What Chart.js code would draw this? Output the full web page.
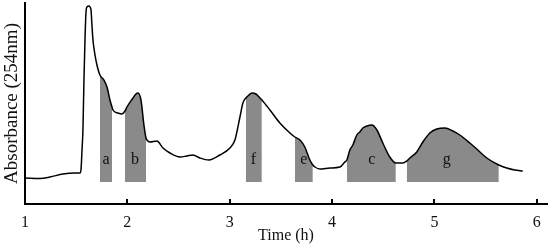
<!DOCTYPE html>
<html>
<head>
<meta charset="utf-8">
<script src="https://cdn.jsdelivr.net/npm/chart.js@4"></script>
<style>
  body { margin: 0; background: #fff; }
  #chromCanvas { display: block; }
</style>
</head>
<body>
<canvas id="chromCanvas" width="550" height="249"></canvas>
<script>
// 吸光度カーブ（時間 h, 吸光度 任意単位）
const curveTime = [
  1.000, 1.146, 1.244, 1.371, 1.488, 1.537, 1.547, 1.557, 1.566, 1.576,
  1.586, 1.596, 1.605, 1.625, 1.635, 1.645, 1.654, 1.664, 1.684, 1.703,
  1.732, 1.771, 1.801, 1.830, 1.850, 1.859, 1.908, 1.947, 1.977, 1.996,
  2.055, 2.084, 2.104, 2.133, 2.162, 2.182, 2.191, 2.221, 2.289, 2.348,
  2.416, 2.514, 2.582, 2.641, 2.709, 2.797, 2.904, 3.002, 3.051, 3.100,
  3.129, 3.158, 3.188, 3.217, 3.256, 3.295, 3.314, 3.393, 3.490, 3.588,
  3.637, 3.686, 3.734, 3.783, 3.812, 3.832, 3.881, 3.979, 4.076, 4.125,
  4.145, 4.174, 4.203, 4.242, 4.271, 4.301, 4.340, 4.389, 4.438, 4.496,
  4.564, 4.623, 4.691, 4.730, 4.760, 4.828, 4.887, 4.955, 5.023, 5.102,
  5.180, 5.248, 5.346, 5.414, 5.512, 5.609, 5.629, 5.707, 5.785, 5.863,
];
const curveAbs = [
  26, 25.5, 27, 30, 31, 31, 34, 54, 74, 124,
  164, 192, 197, 198, 197, 194, 179, 164, 149, 139,
  129, 124, 117, 104, 97, 94, 91, 90, 93, 97,
  106, 110, 111, 104, 79, 66, 64, 62, 63, 56,
  51, 47, 48, 49, 46, 44, 49, 56, 64, 87,
  101, 106, 109, 111, 110, 106, 104, 94, 81, 71,
  67, 64, 57, 44, 39, 37, 35, 36, 37, 42,
  44, 54, 59, 69, 72, 76, 78, 79, 74, 61,
  47, 41, 41, 43, 46, 52, 62, 71, 75, 76,
  73, 69, 61, 55, 46, 40, 39, 36, 34, 33,
];

// 分画（塗りつぶし範囲）
const fractionNames = ["a", "b", "f", "e", "c", "g"];
const fractionStart = [1.732, 1.977, 3.158, 3.637, 4.145, 4.730];
const fractionEnd = [1.850, 2.182, 3.314, 3.812, 4.623, 5.629];
const fractionLabelTime = [1.791, 2.074, 3.231, 3.725, 4.389, 5.121];
const fractionLabelAbs = 44;
const fractionBase = 22;

const xTicks = [1, 2, 3, 4, 5, 6];

const SERIF = "'Liberation Serif', 'Times New Roman', serif";

const curvePoints = curveTime.map((t, i) => ({ x: t, y: curveAbs[i] }));

const fractionDatasets = fractionNames.map((name, i) => ({
  label: name,
  data: curvePoints.filter((p) => p.x >= fractionStart[i] && p.x <= fractionEnd[i]),
  showLine: true,
  pointRadius: 0,
  borderWidth: 0,
  backgroundColor: "#8a8a8a",
  cubicInterpolationMode: "monotone",
  fill: { value: fractionBase },
  order: 2,
}));

/**
 * 分画ラベルとx軸の内向き目盛りを描く。
 */
const fractionLabelPlugin = {
  id: "fractionLabels",
  afterDatasetsDraw(chart) {
    const { ctx, scales } = chart;
    ctx.save();
    ctx.fillStyle = "#111";
    ctx.font = "16px " + SERIF;
    ctx.textAlign = "center";
    ctx.textBaseline = "middle";
    fractionNames.forEach((name, i) => {
      ctx.fillText(
        name,
        scales.x.getPixelForValue(fractionLabelTime[i]),
        scales.y.getPixelForValue(fractionLabelAbs)
      );
    });
    // x軸の目盛り（上向き）
    ctx.strokeStyle = "#000";
    ctx.lineWidth = 2;
    const y0 = scales.y.getPixelForValue(0);
    xTicks.slice(1).forEach((t) => {
      const px = Math.round(scales.x.getPixelForValue(t));
      ctx.beginPath();
      ctx.moveTo(px, y0);
      ctx.lineTo(px, y0 - 5);
      ctx.stroke();
    });
    ctx.restore();
  },
};

const ctx = document.getElementById("chromCanvas").getContext("2d");
new Chart(ctx, {
  type: "scatter",
  data: {
    datasets: [
      {
        label: "Absorbance",
        data: curvePoints,
        showLine: true,
        pointRadius: 0,
        borderColor: "#000",
        borderWidth: 1.5,
        cubicInterpolationMode: "monotone",
        fill: false,
        order: 1,
      },
      ...fractionDatasets,
    ],
  },
  options: {
    responsive: false,
    animation: false,
    layout: { padding: { left: 2, right: 3, top: 3, bottom: 2 } },
    plugins: {
      legend: { display: false },
      tooltip: { enabled: false },
    },
    scales: {
      x: {
        type: "linear",
        min: 1,
        max: 6.1,
        afterBuildTicks: (scale) => {
          scale.ticks = xTicks.map((v) => ({ value: v }));
        },
        afterFit: (scale) => {
          scale.height = 43;
        },
        grid: { display: true, drawOnChartArea: false, drawTicks: false, tickLength: 0 },
        border: { display: true, color: "#000", width: 2 },
        ticks: {
          color: "#111",
          padding: 9,
          maxRotation: 0,
          font: { family: SERIF, size: 16 },
        },
        title: {
          display: true,
          text: "Time (h)",
          color: "#111",
          padding: { top: 0, bottom: 4 },
          font: { family: SERIF, size: 16, lineHeight: 0.9 },
        },
      },
      y: {
        min: 0,
        max: 201,
        afterFit: (scale) => {
          scale.width = 23;
        },
        grid: { display: true, drawOnChartArea: false, drawTicks: false, tickLength: 0 },
        border: { display: true, color: "#000", width: 2 },
        ticks: { display: false },
        title: {
          display: true,
          text: "Absorbance (254nm)",
          color: "#111",
          padding: { top: 0, bottom: 2 },
          font: { family: SERIF, size: 19, lineHeight: 1.1 },
        },
      },
    },
  },
  plugins: [fractionLabelPlugin],
});
</script>
</body>
</html>
